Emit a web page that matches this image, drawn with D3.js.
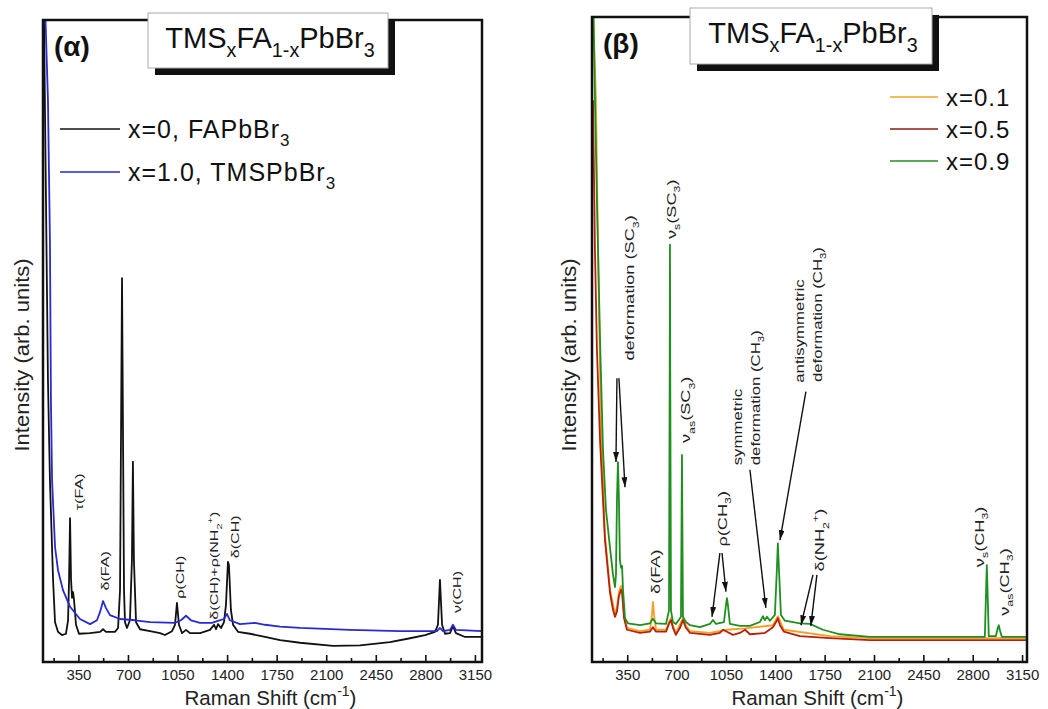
<!DOCTYPE html>
<html>
<head>
<meta charset="utf-8">
<script src="https://cdn.jsdelivr.net/npm/d3@7"></script>
<style>
body { margin: 0; background: #fff; }
text { font-family: "Liberation Sans", Arial, sans-serif; }
</style>
</head>
<body>
<script>
// Raman spectra, [shift (cm-1), intensity (arb. units)]
const fapbbr3 = [[105,104],[121,72.0],[135,43.9],[149,28.3],[171,12.8],[185,6.2],[206,4.7],[234,4.2],[262,4.4],[277,6.5],[284,12.8],[291,22.4],[298,12.8],[305,10.0],[312,10.9],[319,9.7],[333,5.8],[354,4.4],[432,4.5],[503,4.7],[524,5.1],[545,4.7],[608,4.7],[630,5.3],[644,11.2],[658,59.8],[672,11.2],[679,6.2],[693,5.3],[714,6.5],[728,15.9],[735,31.2],[742,15.9],[757,6.2],[785,5.1],[856,4.8],[926,4.5],[961,4.2],[1011,4.8],[1032,5.8],[1046,9.2],[1060,5.8],[1082,4.5],[1110,5.0],[1138,4.5],[1209,4.5],[1279,5.0],[1308,5.8],[1322,5.1],[1336,5.9],[1357,5.3],[1378,6.2],[1392,8.9],[1406,15.6],[1413,15.1],[1427,8.1],[1442,5.8],[1477,4.7],[1562,4.4],[1668,3.9],[1774,3.4],[1915,3.0],[2148,2.5],[2339,2.6],[2550,3.1],[2692,3.7],[2798,4.2],[2868,4.7],[2889,5.8],[2903,12.8],[2918,5.8],[2939,4.4],[2974,4.5],[2995,5.6],[3016,4.5],[3080,3.9],[3200,3.9]];
const tmspbbr3 = [[112,104],[135,87.5],[149,65.7],[156,40.8],[164,28.3],[185,17.9],[206,14.3],[241,11.2],[291,8.6],[361,6.7],[432,5.9],[481,6.5],[503,7.8],[524,9.5],[545,8.4],[573,7.3],[644,6.7],[750,6.5],[856,6.2],[1032,6.1],[1074,6.5],[1110,7.2],[1145,6.5],[1209,6.1],[1293,6.1],[1336,6.4],[1378,6.7],[1399,7.5],[1420,6.5],[1491,5.9],[1597,6.1],[1668,5.8],[1774,5.5],[1915,5.3],[2268,5.0],[2621,4.8],[2882,4.8],[2903,5.3],[2925,4.8],[2974,5.0],[2995,5.8],[3016,5.0],[3200,4.8]];

const x01 = [[107,102],[128,87.1],[143,63.9],[164,36.0],[192,19.7],[228,11.2],[263,7.4],[277,8.5],[291,10.9],[306,11.8],[313,11.2],[327,7.3],[348,5.3],[440,4.8],[511,5.0],[525,7.3],[532,9.3],[540,7.3],[554,5.0],[625,5.0],[646,6.2],[660,6.8],[674,5.6],[695,4.5],[745,6.8],[766,5.6],[795,4.8],[936,4.5],[1057,5.0],[1185,5.2],[1383,5.7],[1418,7.1],[1461,5.0],[1787,4.0],[2071,3.7],[3185,3.7]];
const x05 = [[107,87.1],[121,63.9],[135,48.4],[157,34.4],[192,18.9],[228,10.7],[249,8.1],[263,7.0],[277,7.8],[291,10.2],[306,11.2],[313,10.9],[327,6.8],[348,5.0],[440,4.5],[511,4.7],[532,5.4],[554,4.7],[625,4.7],[646,5.9],[660,6.5],[674,5.3],[695,4.2],[724,5.3],[745,6.5],[766,5.3],[795,4.5],[936,4.2],[1007,4.5],[1029,5.0],[1057,4.7],[1100,4.2],[1149,4.5],[1185,5.0],[1220,4.3],[1326,4.5],[1383,5.4],[1411,6.4],[1418,6.8],[1433,5.7],[1461,4.7],[1574,4.0],[1787,3.7],[2071,3.4],[3185,3.4]];
const x09 = [[107,105],[121,87.1],[135,71.6],[157,49.9],[178,32.9],[199,23.6],[228,17.7],[249,13.5],[263,11.6],[270,13.5],[277,25.1],[284,31.0],[291,25.1],[298,15.8],[306,14.6],[313,14.9],[320,11.2],[334,6.8],[355,6.0],[440,5.7],[511,6.0],[532,6.7],[554,6.0],[625,5.9],[646,8.0],[651,45],[653,64.7],[655,45],[660,8.0],[674,6.2],[695,5.9],[731,7.0],[738,32.1],[745,7.0],[766,6.2],[795,5.7],[866,5.4],[936,5.9],[958,6.5],[979,5.9],[1036,6.2],[1050,8.8],[1057,9.9],[1064,8.8],[1078,5.9],[1149,5.6],[1220,5.6],[1291,6.2],[1312,7.1],[1326,6.5],[1341,7.0],[1362,6.4],[1397,7.3],[1411,14.3],[1418,18.4],[1426,14.3],[1440,7.3],[1468,6.4],[1574,6.0],[1645,5.9],[1738,5.0],[1858,4.3],[2071,3.9],[2886,3.9],[2893,9.6],[2900,15.0],[2907,9.6],[2914,4.0],[2964,4.0],[2978,5.3],[2985,5.7],[2992,5.0],[3006,3.9],[3185,3.9]];

const majorTicks = [350, 700, 1050, 1400, 1750, 2100, 2450, 2800, 3150];
const minorTicks = [175, 525, 875, 1225, 1575, 1925, 2275, 2625, 2975];

const leftLegend = ["x=0, FAPbBr_{3}", "x=1.0, TMSPbBr_{3}"];
const rightLegend = ["x=0.1", "x=0.5", "x=0.9"];

// peak labels, anchored at [shift, intensity]
const leftNotes = [
    {text: "τ(FA)", v: 354, i: 26.5},
    {text: "δ(FA)", v: 538, i: 14.2},
    {text: "ρ(CH)", v: 1067, i: 13.2},
    {text: "δ(CH)+ρ(NH_{2}^{+})", v: 1308, i: 15.0},
    {text: "δ(CH)", v: 1456, i: 19.5},
    {text: "ν(CH)", v: 3023, i: 10.9}
];
const rightNotes = [
    {text: "deformation (SC_{3})", v: 369, i: 58.0},
    {text: "ν_{s}(SC_{3})", v: 660, i: 70.2},
    {text: "ν_{as}(SC_{3})", v: 766, i: 39.1},
    {text: "δ(FA)", v: 547, i: 14.0},
    {text: "ρ(CH_{3})", v: 1022, i: 22.2},
    {text: "δ(NH_{2}^{+})", v: 1716, i: 18.9},
    {text: "ν_{s}(CH_{3})", v: 2850, i: 19.4},
    {text: "ν_{as}(CH_{3})", v: 3027, i: 12.4}
];
const rightStacked = [
    {text: "symmetric", v: 1135, i: 30.5},
    {text: "deformation (CH_{3})", v: 1263, i: 30.5},
    {text: "antisymmetric", v: 1574, i: 43.3},
    {text: "deformation (CH_{3})", v: 1702, i: 43.4}
];
// [fromShift, fromInt, toShift, toInt]
const rightArrows = [
    [277, 44, 270, 31], [291, 44, 334, 27.1],
    [1007, 16.9, 951, 7.0], [1022, 16.9, 1050, 10.9],
    [1220, 29.8, 1333, 8.4],
    [1617, 41.9, 1433, 18.9],
    [1667, 13.5, 1582, 5.7], [1695, 13.5, 1652, 5.6]
];

const W = 1048, H = 709;
const svg = d3.select("body").append("svg")
    .attr("width", W)
    .attr("height", H);

svg.append("defs").append("marker")
    .attr("id", "arrow")
    .attr("markerUnits", "userSpaceOnUse")
    .attr("markerWidth", 10)
    .attr("markerHeight", 6)
    .attr("refX", 10)
    .attr("refY", 3)
    .attr("orient", "auto")
    .append("path")
    .attr("d", "M0,0L10,3L0,6Z")
    .attr("fill", "#111");

// text with _{sub} and ^{sup} pieces
function richText(sel, str, fs) {
    const re = /([_^])\{([^}]*)\}/g;
    let last = 0, m, shift = 0;
    const add = (s, kind) => {
        const target = kind === "sub" ? 0.32 * fs : kind === "sup" ? -0.42 * fs : 0;
        sel.append("tspan")
            .attr("dy", target - shift)
            .attr("font-size", kind === "n" ? fs : fs * 0.68)
            .text(s);
        shift = target;
    };
    while ((m = re.exec(str))) {
        if (m.index > last) add(str.slice(last, m.index), "n");
        add(m[2], m[1] === "_" ? "sub" : "sup");
        last = re.lastIndex;
    }
    if (last < str.length) add(str.slice(last), "n");
    return sel;
}

function drawPanel(p) {
    const g = svg.append("g");
    const x = d3.scaleLinear().domain([100, p.xMax]).range([p.x0, p.x1]);
    const y = d3.scaleLinear().domain([0, 100]).range([p.y1, p.y0]);

    g.append("clipPath").attr("id", p.id)
        .append("rect")
        .attr("x", p.x0).attr("y", p.y0)
        .attr("width", p.x1 - p.x0).attr("height", p.y1 - p.y0);

    const line = d3.line().x(d => x(d[0])).y(d => y(d[1]));
    g.append("g").attr("clip-path", `url(#${p.id})`)
        .selectAll("path")
        .data(p.series)
        .enter().append("path")
        .attr("d", d => line(d.data))
        .attr("fill", "none")
        .attr("stroke", d => d.color)
        .attr("stroke-width", 1.8)
        .attr("stroke-linejoin", "round");

    // bottom axis, ticks pointing inward
    const ax = g.append("g")
        .attr("transform", `translate(0,${p.y1})`)
        .call(d3.axisBottom(x).tickValues(majorTicks).tickFormat(d3.format("d")).tickSize(-7).tickPadding(7));
    g.append("g")
        .attr("transform", `translate(0,${p.y1})`)
        .call(d3.axisBottom(x).tickValues(minorTicks).tickSize(-4).tickFormat(""));
    g.selectAll(".domain").remove();
    g.selectAll(".tick line").attr("stroke", "#111").attr("stroke-width", 1.6);
    ax.selectAll("text")
        .attr("font-size", 15)
        .attr("font-family", "Liberation Sans, Arial, sans-serif")
        .attr("fill", "#222");

    g.append("rect")
        .attr("x", p.x0).attr("y", p.y0)
        .attr("width", p.x1 - p.x0).attr("height", p.y1 - p.y0)
        .attr("fill", "none")
        .attr("stroke", "#111")
        .attr("stroke-width", 2.5);

    // axis titles
    richText(g.append("text")
        .attr("x", (p.x0 + p.x1) / 2 + 8)
        .attr("y", 705)
        .attr("text-anchor", "middle")
        .attr("fill", "#222"), "Raman Shift (cm^{-1})", 20.5);
    g.append("text")
        .attr("transform", `translate(${p.yTitleX},355) rotate(-90) scale(1.1,1)`)
        .attr("text-anchor", "middle")
        .attr("font-size", 20)
        .attr("fill", "#222")
        .text("Intensity (arb. units)");

    // rotated peak labels
    const note = (d, fs, anchor) => {
        richText(g.append("text")
            .attr("transform", `translate(${x(d.v)},${y(d.i)}) rotate(-90) scale(1.4,1)`)
            .attr("y", 0.35 * fs)
            .attr("text-anchor", anchor)
            .attr("fill", "#222"), d.text, fs);
    };
    p.notes.forEach(d => note(d, p.noteSize, "middle"));
    (p.stacked || []).forEach(d => note(d, 12, "start"));

    g.selectAll("line.arrow")
        .data(p.arrows || [])
        .enter().append("line")
        .attr("class", "arrow")
        .attr("x1", d => x(d[0])).attr("y1", d => y(d[1]))
        .attr("x2", d => x(d[2])).attr("y2", d => y(d[3]))
        .attr("stroke", "#111")
        .attr("stroke-width", 1.4)
        .attr("marker-end", "url(#arrow)");

    // panel letter
    g.append("text")
        .attr("x", p.x0 + 11)
        .attr("y", p.y0 + 36)
        .attr("font-size", 28)
        .attr("font-weight", "bold")
        .attr("fill", "#111")
        .text(p.letter);

    // title box with shadow
    const b = p.box;
    g.append("rect")
        .attr("x", b.x + 7).attr("y", b.y + 7)
        .attr("width", b.w).attr("height", b.h)
        .attr("fill", "#111");
    g.append("rect")
        .attr("x", b.x).attr("y", b.y)
        .attr("width", b.w).attr("height", b.h)
        .attr("fill", "#fff")
        .attr("stroke", "#aaa")
        .attr("stroke-width", 1);
    richText(g.append("text")
        .attr("x", b.x + b.w / 2 + 2)
        .attr("y", b.y + 35)
        .attr("text-anchor", "middle")
        .attr("fill", "#111"), "TMS_{x}FA_{1-x}PbBr_{3}", 29);

    // legend
    const lg = g.append("g").selectAll("g")
        .data(p.legend)
        .enter().append("g")
        .attr("transform", (d, i) => `translate(${p.legX},${p.legY + i * p.legStep})`);
    lg.append("line")
        .attr("x1", 0).attr("x2", p.legLen)
        .attr("stroke", (d, i) => p.legColors[i])
        .attr("stroke-width", 1.6);
    lg.each(function(d) {
        richText(d3.select(this).append("text")
            .attr("x", p.legLen + 8)
            .attr("y", 9)
            .attr("letter-spacing", 1)
            .attr("fill", "#111"), d, p.legSize);
    });
}

drawPanel({
    id: "clipA", x0: 43, x1: 482, y0: 20, y1: 662, xMax: 3200,
    yTitleX: 29,
    series: [{data: fapbbr3, color: "#111"}, {data: tmspbbr3, color: "#2a2ad0"}],
    notes: leftNotes, noteSize: 11.5,
    letter: "(α)",
    box: {x: 148, y: 13, w: 240, h: 55},
    legend: leftLegend, legColors: ["#111", "#2a2ad0"],
    legX: 60, legY: 129, legStep: 43, legLen: 60, legSize: 25
});

drawPanel({
    id: "clipB", x0: 592, x1: 1027, y0: 17, y1: 662, xMax: 3185,
    yTitleX: 576,
    series: [{data: x01, color: "#f5a020"}, {data: x05, color: "#b8200e"}, {data: x09, color: "#1f8f1f"}],
    notes: rightNotes, noteSize: 13,
    stacked: rightStacked,
    arrows: rightArrows,
    letter: "(β)",
    box: {x: 690, y: 8, w: 242, h: 56},
    legend: rightLegend, legColors: ["#f5a020", "#8b1a10", "#1f8f1f"],
    legX: 890, legY: 97, legStep: 32, legLen: 48, legSize: 24
});
</script>
</body>
</html>
